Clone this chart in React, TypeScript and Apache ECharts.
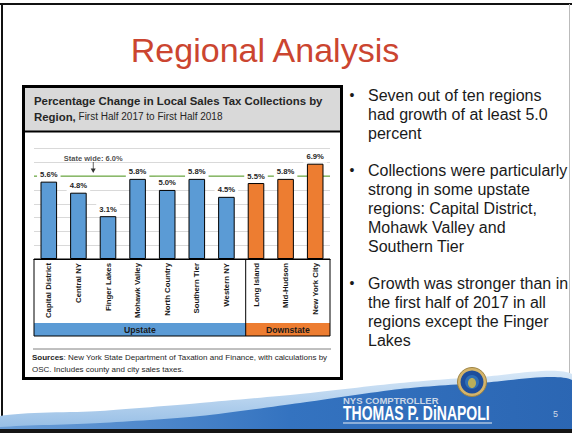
import React, { useEffect, useRef } from "react";
import * as echarts from "echarts";

const categories = [
  "Capital District",
  "Central NY",
  "Finger Lakes",
  "Mohawk Valley",
  "North Country",
  "Southern Tier",
  "Western NY",
  "Long Island",
  "Mid-Hudson",
  "New York City",
];
const growth = [5.6, 4.8, 3.1, 5.8, 5.0, 5.8, 4.5, 5.5, 5.8, 6.9];
const regionGroup = [
  "Upstate", "Upstate", "Upstate", "Upstate", "Upstate", "Upstate", "Upstate",
  "Downstate", "Downstate", "Downstate",
];
const groups = ["Upstate", "Downstate"];
const statewide = 6.0;
const yMin = 0;
const yMax = 8;
const yStep = 1;

const bullets = [
  "Seven out of ten regions\nhad growth of at least 5.0\npercent",
  "Collections were particularly\nstrong in some upstate\nregions: Capital District,\nMohawk Valley and\nSouthern Tier",
  "Growth was stronger than in\nthe first half of 2017 in all\nregions except the Finger\nLakes",
];

const groupColors: Record<string, string> = { Upstate: "#5B9BD5", Downstate: "#ED7D31" };
const FONT = "Arial, 'Liberation Sans', sans-serif";

export default function App() {
  const ref = useRef<HTMLDivElement>(null);
  useEffect(() => {
    if (!ref.current) return;
    const chart = echarts.init(ref.current, null, { renderer: "svg" });

    const gL = 34, gR = 330, gTop = 148.5, gBottom = 259;
    const catW = (gR - gL) / categories.length;
    const nUp = regionGroup.filter((g) => g === "Upstate").length;
    const divX = gL + catW * nUp + 4.5;
    const tableBottom = 336, rowTop = 323;

    const bulletTops = [85.5, 160.5, 273.5];

    const graphic: any[] = [
      // slide frame
      { type: "line", shape: { x1: 0, y1: 4, x2: 572, y2: 4 }, style: { stroke: "#111", lineWidth: 2 } },
      { type: "line", shape: { x1: 2, y1: 4, x2: 2, y2: 433 }, style: { stroke: "#111", lineWidth: 2 } },
      { type: "line", shape: { x1: 569.5, y1: 4, x2: 569.5, y2: 433 }, style: { stroke: "#bbb", lineWidth: 1 } },
      // title
      {
        type: "text", x: 265, y: 50,
        style: { text: "Regional Analysis", font: `34px ${FONT}`, fill: "#CB4530", align: "center", verticalAlign: "middle" },
      },
      // header box
      { type: "rect", shape: { x: 23.5, y: 86.5, width: 318, height: 45 }, style: { fill: "#D9D9D9" } },
      { type: "line", shape: { x1: 23, y1: 131.5, x2: 342, y2: 131.5 }, style: { stroke: "#000", lineWidth: 2 } },
      { type: "rect", shape: { x: 23.5, y: 86.5, width: 318, height: 292 }, style: { fill: "none", stroke: "#000", lineWidth: 3 } },
      {
        type: "text", x: 34, y: 92.5,
        style: {
          text: "{b|Percentage Change in Local Sales Tax Collections by}\n{b|Region,}{n| First Half 2017 to First Half 2018}",
          rich: {
            b: { fontSize: 11.4, fontWeight: "bold", fontFamily: FONT, fill: "#262626", lineHeight: 16 },
            n: { fontSize: 10, fontFamily: FONT, fill: "#262626", lineHeight: 16 },
          },
          verticalAlign: "top",
        },
      },
      // category table
      { type: "rect", shape: { x: gL, y: rowTop, width: divX - gL, height: tableBottom - rowTop }, style: { fill: groupColors[groups[0]] } },
      { type: "rect", shape: { x: divX, y: rowTop, width: gR - divX, height: tableBottom - rowTop }, style: { fill: groupColors[groups[1]] } },
      { type: "rect", shape: { x: gL, y: gBottom, width: gR - gL, height: tableBottom - gBottom }, style: { fill: "none", stroke: "#000", lineWidth: 1 } },
      { type: "line", shape: { x1: divX, y1: gBottom, x2: divX, y2: tableBottom }, style: { stroke: "#000", lineWidth: 1 } },
      {
        type: "text", x: (gL + divX) / 2, y: (rowTop + tableBottom) / 2 + 0.5,
        style: { text: groups[0], font: `bold 8.7px ${FONT}`, fill: "#1a1a1a", align: "center", verticalAlign: "middle" },
      },
      {
        type: "text", x: (divX + gR) / 2, y: (rowTop + tableBottom) / 2 + 0.5,
        style: { text: groups[1], font: `bold 8.7px ${FONT}`, fill: "#1a1a1a", align: "center", verticalAlign: "middle" },
      },
      // sources
      { type: "line", shape: { x1: 33, y1: 349, x2: 331, y2: 349 }, style: { stroke: "#808080", lineWidth: 1 } },
      {
        type: "text", x: 32, y: 351,
        style: {
          text: "{b|Sources}{n|: New York State Department of Taxation and Finance, with calculations by}\n{n|OSC. Includes county and city sales taxes.}",
          rich: {
            b: { fontSize: 8, fontWeight: "bold", fontFamily: FONT, fill: "#262626", lineHeight: 12 },
            n: { fontSize: 8, fontFamily: FONT, fill: "#262626", lineHeight: 12 },
          },
          verticalAlign: "top",
        },
      },
      // footer swoosh
      {
        type: "polygon",
        shape: {
          points: [[0, 416], [100, 411], [200, 403], [300, 394], [400, 383], [480, 377], [572, 374], [572, 430], [0, 430]],
          smooth: 0.25,
        },
        style: {
          fill: new echarts.graphic.LinearGradient(0, 0, 0, 1, [
            { offset: 0, color: "#D8E8F7" },
            { offset: 1, color: "#8DB8E3" },
          ]),
        },
      },
      {
        type: "polygon",
        shape: {
          points: [[0, 427], [100, 423], [200, 416], [300, 403], [400, 389], [480, 383], [572, 380], [572, 430], [0, 430]],
          smooth: 0.25,
        },
        style: {
          fill: new echarts.graphic.LinearGradient(0, 0, 1, 0, [
            { offset: 0, color: "#6C9FD8" },
            { offset: 0.5, color: "#3473C0" },
            { offset: 1, color: "#2B66B3" },
          ]),
        },
      },
      { type: "rect", shape: { x: 0, y: 429, width: 572, height: 4 }, style: { fill: "#151515" } },
      // seal
      { type: "circle", shape: { cx: 472, cy: 382, r: 14.5 }, style: { fill: "#D4B46A", stroke: "#9E8443", lineWidth: 1 } },
      { type: "circle", shape: { cx: 472, cy: 382, r: 11.5 }, style: { fill: "#1E4E9C" } },
      { type: "circle", shape: { cx: 472, cy: 382, r: 7 }, style: { fill: "#2F6FB6" } },
      { type: "ellipse", shape: { cx: 472, cy: 383, rx: 4, ry: 5 }, style: { fill: "#B9AE5A" } },
      // logo texts
      {
        type: "text", x: 343, y: 400,
        style: { text: "NYS COMPTROLLER", font: `bold 9.5px ${FONT}`, fill: "#C9D6E6", verticalAlign: "middle" },
      },
      {
        type: "text", x: 343, y: 413, scaleX: 0.7,
        style: { text: "THOMAS P. DiNAPOLI", font: `bold 20px ${FONT}`, fill: "#FFFFFF", verticalAlign: "middle" },
      },
      { type: "line", shape: { x1: 343, y1: 423, x2: 492, y2: 423 }, style: { stroke: "#E8EEF6", lineWidth: 1 } },
      {
        type: "text", x: 553, y: 414,
        style: { text: "5", font: `9px ${FONT}`, fill: "#D0DAE6", verticalAlign: "middle" },
      },
    ];

    bullets.forEach((b, i) => {
      graphic.push({
        type: "text", x: 352, y: bulletTops[i] + 9.5,
        style: { text: "•", font: `14px ${FONT}`, fill: "#1a1a1a", align: "center", verticalAlign: "middle" },
      });
      graphic.push({
        type: "text", x: 368, y: bulletTops[i],
        style: { text: b, font: `16px ${FONT}`, fill: "#1a1a1a", lineHeight: 19, verticalAlign: "top" },
      });
    });

    chart.setOption({
      animation: false,
      backgroundColor: "#fff",
      grid: { left: gL, right: 572 - gR, top: gTop, bottom: 433 - gBottom, containLabel: false },
      xAxis: [
        {
          type: "category",
          data: categories,
          axisLine: { show: true, lineStyle: { color: "#000", width: 1 } },
          axisTick: { show: false },
          axisLabel: {
            rotate: 90, fontSize: 7.8, fontWeight: "bold", color: "#1a1a1a",
            fontFamily: FONT, margin: 4, interval: 0,
          },
          splitLine: { show: false },
          z: 5,
        },
        { type: "value", min: -0.5, max: categories.length - 0.5, show: false },
      ],
      yAxis: {
        type: "value", min: yMin, max: yMax, interval: yStep,
        axisLabel: { show: false }, axisLine: { show: false }, axisTick: { show: false },
        splitLine: { lineStyle: { color: "#D9D9D9", width: 1 } },
      },
      graphic,
      series: [
        {
          type: "line",
          xAxisIndex: 1,
          data: [[-0.5, statewide], [categories.length - 0.5, statewide]],
          symbol: "none",
          lineStyle: { color: "#70AD47", width: 1.3 },
          z: 1,
          silent: true,
        },
        {
          type: "bar",
          xAxisIndex: 0,
          barWidth: "56%",
          z: 2,
          data: growth.map((v, i) => ({ value: v, itemStyle: { color: groupColors[regionGroup[i]] } })),
          itemStyle: { borderColor: "#000", borderWidth: 1 },
          label: {
            show: true, position: "top", distance: 1,
            formatter: (p: any) => `${Number(p.value).toFixed(1)}%`,
            fontSize: 7.7, fontWeight: "bold", fontFamily: FONT, color: "#262626",
            backgroundColor: "#fff", padding: [2, 3],
          },
        },
        {
          type: "scatter",
          xAxisIndex: 1,
          data: [[1.5, statewide]],
          symbol: "path://M3.4,0 L4.6,0 L4.6,7 L8,7 L4,12 L0,7 L3.4,7 Z",
          symbolSize: [5, 11],
          symbolOffset: [0, -8.6],
          itemStyle: { color: "#000" },
          z: 3,
          silent: true,
          label: {
            show: true, position: "top", distance: 0,
            formatter: `State wide: ${statewide.toFixed(1)}%`,
            fontSize: 7.5, fontWeight: "bold", fontFamily: FONT, color: "#1a1a1a",
          },
        },
      ],
    });
    return () => chart.dispose();
  }, []);
  return <div ref={ref} style={{ position: "absolute", left: 0, top: 0, width: 572, height: 433 }} />;
}
